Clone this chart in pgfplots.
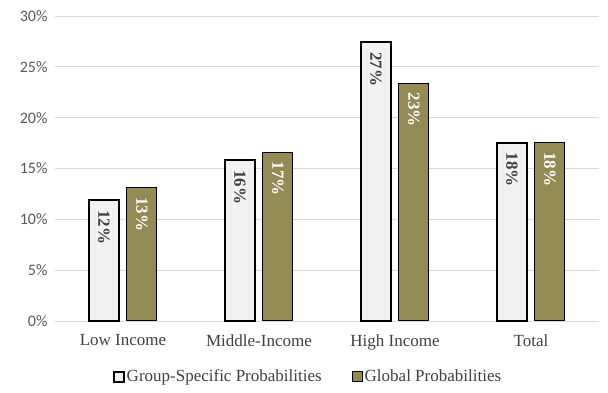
\documentclass[border=0pt]{standalone}
\usepackage{fontspec}
\setmainfont{Liberation Serif}
\newfontfamily\tickfont{Carlito}
\usepackage{pgfplots}
\pgfplotsset{compat=1.18}
\usepackage{pgfplotstable}
\definecolor{olive}{HTML}{948A54}
\definecolor{lightbar}{HTML}{F2F2F2}
\definecolor{gridc}{HTML}{D9D9D9}
\definecolor{txt}{HTML}{404040}
\definecolor{ticktxt}{HTML}{595959}
\pgfplotstableread{
x y
0 11.9
1 15.8
2 27.4
3 17.55
}\groupspec
\pgfplotstableread{
x y
0 13.1
1 16.6
2 23.4
3 17.55
}\globalp
\begin{document}
\begin{tikzpicture}
\begin{axis}[
  scale only axis,
  width=544pt, height=305pt,
  /pgf/number format/assume math mode=true,
  ymin=0, ymax=30, ytick={0,5,...,30},
  xmin=-0.5, xmax=3.5,
  xtick=data,
  xticklabels={Low Income, Middle-Income, High Income, Total},
  ybar=8pt, bar width=30pt,
  axis line style={draw=none},
  major tick length=0pt,
  ymajorgrids, grid style={gridc, line width=0.8pt},
  yticklabel={\pgfmathprintnumber{\tick}\%},
  yticklabel style={font=\tickfont\fontsize{16}{18}\selectfont, text=ticktxt, xshift=-4pt},
  xticklabel style={font=\fontsize{17}{19}\selectfont, text=txt, yshift=-10pt},
  legend style={at={(rel axis cs:0.465,-0.182)}, anchor=center, draw=none,
     font=\fontsize{17}{19}\selectfont, text=txt,
     /tikz/every even column/.append style={column sep=28pt}},
  legend columns=2,
  legend image code/.code={\draw[#1] (0pt,-5pt) rectangle (10pt,5pt);},
  nodes near coords={\pgfmathprintnumber[fixed,precision=0]{\pgfplotspointmeta}\%},
  every node near coord/.append style={rotate=-90, anchor=west, inner xsep=9pt,
     font=\bfseries\fontsize{17}{19}\selectfont},
  clip=false,
]
\addplot[draw=black, line width=2pt, fill=lightbar,
  every node near coord/.append style={text=txt}] table[x=x,y=y] {\groupspec};
\addlegendentry{Group-Specific Probabilities}
\addplot[draw=black, line width=1pt, fill=olive,
  every node near coord/.append style={text=white}] table[x=x,y=y] {\globalp};
\addlegendentry{Global Probabilities}
\end{axis}
\pgfresetboundingbox
\path (-55pt,-72pt) rectangle (553pt,321pt);
\end{tikzpicture}
\end{document}
